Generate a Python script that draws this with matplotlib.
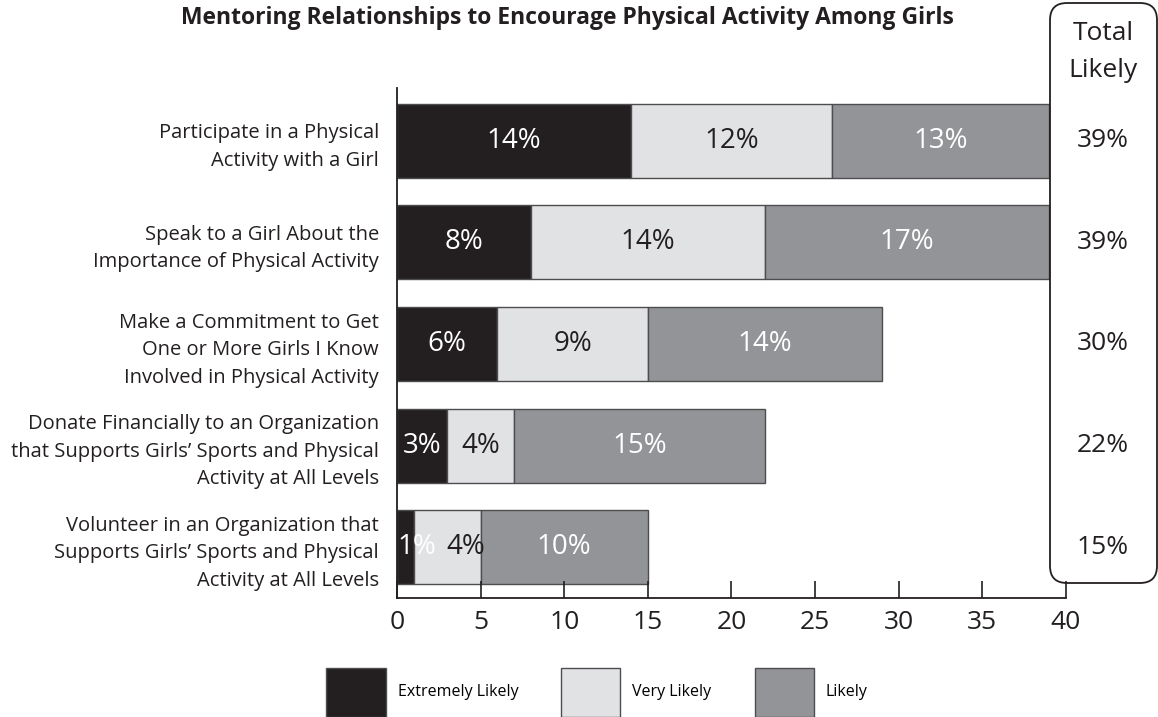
import matplotlib.pyplot as plt
from matplotlib.patches import FancyBboxPatch, Patch

categories = [
    "Participate in a Physical\nActivity with a Girl",
    "Speak to a Girl About the\nImportance of Physical Activity",
    "Make a Commitment to Get\nOne or More Girls I Know\nInvolved in Physical Activity",
    "Donate Financially to an Organization\nthat Supports Girls\u2019 Sports and Physical\nActivity at All Levels",
    "Volunteer in an Organization that\nSupports Girls\u2019 Sports and Physical\nActivity at All Levels",
]
extremely = [14, 8, 6, 3, 1]
very = [12, 14, 9, 4, 4]
likely = [13, 17, 14, 15, 10]
totals = [39, 39, 30, 22, 15]
series_names = ["Extremely Likely", "Very Likely", "Likely"]
x_ticks = [0, 5, 10, 15, 20, 25, 30, 35, 40]

colors = ["#231f20", "#e1e2e4", "#929497"]
text_colors = ["white", "#231f20", "white"]
dark = "#231f20"

plt.rcParams["font.family"] = ["Open Sans", "DejaVu Sans"]

fig = plt.figure(figsize=(11.58, 7.17), dpi=100)
ax = fig.add_axes([0.3428, 0.166, 0.5777, 0.7113])

ypos = list(range(len(categories)))
left = [0] * len(categories)
prev_x = [None] * len(categories)
for si, vals in enumerate([extremely, very, likely]):
    ax.barh(ypos, vals, left=left, height=0.73, color=colors[si],
            edgecolor="#4d4d4f", linewidth=1.0, label=series_names[si])
    for i, v in enumerate(vals):
        # narrow segments: nudge label right so labels don't collide
        xc = max(left[i] + v / 2, left[i] + 1.2)
        if prev_x[i] is not None:
            xc = max(xc, prev_x[i] + 2.9)
        prev_x[i] = xc
        ax.text(xc, i, f"{v}%", ha="center", va="center",
                fontsize=20, color=text_colors[si])
    left = [l + v for l, v in zip(left, vals)]

ax.set_xlim(0, 40)
ax.set_ylim(len(categories) - 0.5, -0.52)
ax.set_yticks(ypos)
ax.set_yticklabels(categories, fontsize=14.5, color=dark, linespacing=1.5)
ax.tick_params(axis="y", length=0, pad=13)
ax.set_xticks(x_ticks)
ax.tick_params(axis="x", direction="in", length=12, width=1.2, labelsize=19,
               colors=dark, pad=9)
for s in ["top", "right"]:
    ax.spines[s].set_visible(False)
for s in ["left", "bottom"]:
    ax.spines[s].set_linewidth(1.3)
    ax.spines[s].set_color(dark)

# Total Likely column
box = FancyBboxPatch((10.50 + 0.17, 1.34 + 0.17), 1.07 - 0.34, 5.80 - 0.34,
                     boxstyle="round,pad=0.17", transform=fig.dpi_scale_trans,
                     facecolor="none", edgecolor=dark, linewidth=1.3)
fig.add_artist(box)
fig.text(1103 / 1158, 1 - 52 / 717, "Total\nLikely", ha="center", va="center",
         fontsize=19, color=dark, linespacing=1.6)
for i, t in enumerate(totals):
    ax.text(1.0 + 37 / 669, i, f"{t}%", transform=ax.get_yaxis_transform(),
            ha="center", va="center", fontsize=19, color=dark)

fig.text(567 / 1158, 1 - 18 / 717, "Mentoring Relationships to Encourage Physical Activity Among Girls",
         ha="center", va="center", fontsize=16.5, fontweight="bold", color=dark)

handles = [Patch(facecolor=c, edgecolor="#4d4d4f", linewidth=1.0) for c in colors]
fig.legend(handles, series_names, loc="upper center", ncol=3,
           bbox_to_anchor=(597 / 1158, 1 - 660 / 717), frameon=False,
           fontsize=11.5, handlelength=3.7, handleheight=4.3,
           handletextpad=0.75, columnspacing=2.7, borderpad=0)

fig.savefig("out.png", dpi=100)
